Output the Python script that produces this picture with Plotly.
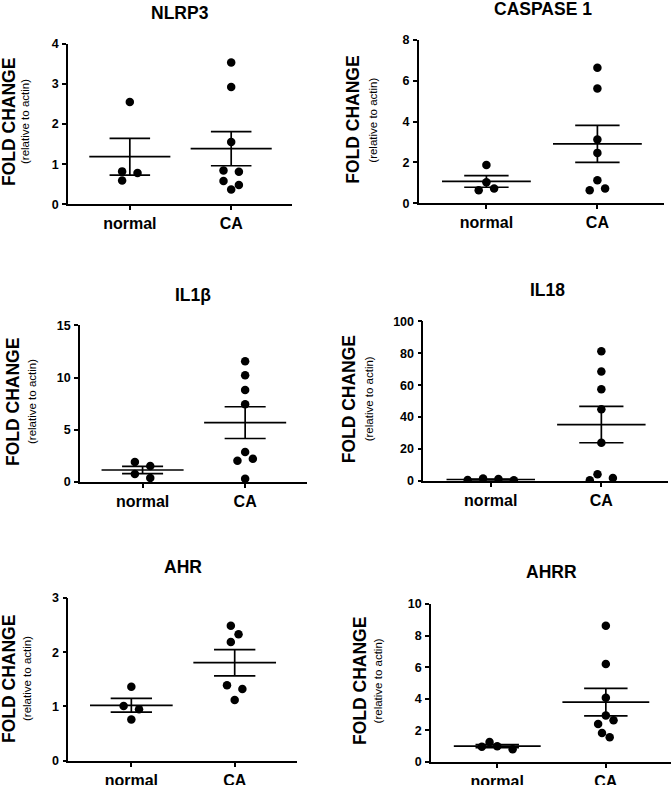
import numpy as np
import plotly.graph_objects as go

# ---------------- data ----------------
groups = ["normal", "CA"]

nlrp3_normal = [2.55, 0.82, 0.78, 0.59]
nlrp3_ca = [3.53, 2.92, 1.55, 0.84, 0.81, 0.58, 0.48, 0.37]

casp1_normal = [1.88, 1.03, 0.64, 0.73]
casp1_ca = [6.64, 5.62, 3.13, 2.47, 1.13, 0.64, 0.73]

il1b_normal = [1.53, 1.92, 0.38, 0.77]
il1b_ca = [11.55, 10.21, 8.81, 7.44, 2.87, 2.23, 2.04, 0.32]

il18_normal = [0.5, 1.5, 0.6, 1.2]
il18_ca = [81.2, 68.5, 57.4, 44.9, 24.0, 4.2, 0.4, 1.9]

ahr_normal = [1.365, 1.01, 0.95, 0.76]
ahr_ca = [2.49, 2.33, 2.19, 1.39, 1.32, 1.12]

ahrr_normal = [0.80, 1.27, 0.97, 0.99]
ahrr_ca = [8.63, 6.20, 4.07, 2.95, 2.64, 2.41, 1.84, 1.56]

titles = ["NLRP3", "CASPASE 1", "IL1β", "IL18", "AHR", "AHRR"]
y_max = [4, 8, 15, 100, 3, 10]
y_dtick = [1, 2, 5, 20, 1, 2]
series = [
    (nlrp3_normal, nlrp3_ca),
    (casp1_normal, casp1_ca),
    (il1b_normal, il1b_ca),
    (il18_normal, il18_ca),
    (ahr_normal, ahr_ca),
    (ahrr_normal, ahrr_ca),
]

# ---------------- layout (pixel boxes of the plot areas) ----------------
W, H = 672, 785
boxes = [  # x0, x1, ytop, ybottom
    (68, 292, 43.7, 204.3),
    (418.7, 664, 40, 203.3),
    (80, 306.7, 325.3, 482),
    (423.3, 667.7, 321.3, 481),
    (68.3, 296.7, 598, 760.7),
    (431, 671, 604, 762),
]
title_pos = [(180, 13), (542.7, 9.5), (193, 295.3), (547.7, 290.3), (182.7, 567.3), (551, 572.3)]
ylab_pos = [(9, 25, 122), (352.7, 372.7, 120), (13, 32, 402), (349, 369, 399.3), (9, 27, 679), (359.3, 377.7, 680.7)]

XR = (-0.61, 1.6)
FONT = "Liberation Sans, Arial, Helvetica, sans-serif"
BLACK = "#000000"


def swarm(values, ppu_y, ppu_x, D=8.8, h=7.7):
    """Simple beeswarm: horizontal offsets (in category units)."""
    order = sorted(range(len(values)), key=lambda i: -values[i])
    placed = {}
    for i in order:
        y = values[i] * ppu_y
        for k in [0, 1, -1, 2, -2, 3, -3, 4, -4, 5, -5]:
            x = k * h
            if all((x - px) ** 2 + (y - py) ** 2 >= D * D for px, py in placed.values()):
                placed[i] = (x, y)
                break
    offs = {i: placed[i][0] for i in placed}
    clusters, cur = [], [order[0]]
    for a, b in zip(order[:-1], order[1:]):
        if placed[a][1] - placed[b][1] < D:
            cur.append(b)
        else:
            clusters.append(cur)
            cur = [b]
    clusters.append(cur)
    for c in clusters:
        xs = [offs[i] for i in c]
        s = (min(xs) + max(xs)) / 2
        for i in c:
            offs[i] -= s
    return [offs[i] / ppu_x for i in range(len(values))]


fig = go.Figure()
annotations = []

for p, (box, title, ym, dt, data) in enumerate(zip(boxes, titles, y_max, y_dtick, series)):
    x0, x1, yt, yb = box
    n = p + 1
    xa = "x" if n == 1 else f"x{n}"
    ya = "y" if n == 1 else f"y{n}"
    ppu_y = (yb - yt) / ym
    ppu_x = (x1 - x0) / (XR[1] - XR[0])

    for g, vals in enumerate(data):
        vals = np.asarray(vals, dtype=float)
        offs = swarm(list(vals), ppu_y, ppu_x)
        fig.add_trace(go.Scatter(
            x=[g + o for o in offs], y=vals, mode="markers",
            marker=dict(size=8.5, color=BLACK, line=dict(width=0)),
            xaxis=xa, yaxis=ya, showlegend=False, hoverinfo="y"))
        m = vals.mean()
        sem = vals.std(ddof=1) / np.sqrt(len(vals))
        lx = [g - 0.4, g + 0.4, None,
              g - 0.2, g + 0.2, None,
              g - 0.2, g + 0.2, None,
              g, g]
        ly = [m, m, None,
              m + sem, m + sem, None,
              m - sem, m - sem, None,
              m - sem, m + sem]
        fig.add_trace(go.Scatter(
            x=lx, y=ly, mode="lines", line=dict(color=BLACK, width=1.7),
            xaxis=xa, yaxis=ya, showlegend=False, hoverinfo="skip"))

    axis_common = dict(showline=True, linecolor=BLACK, linewidth=1.6, showgrid=False,
                       zeroline=False, ticks="outside", ticklen=4, tickwidth=1.5,
                       tickcolor=BLACK, automargin=False)
    fig.update_layout(**{
        ("xaxis" if n == 1 else f"xaxis{n}"): dict(
            domain=[x0 / W, x1 / W], range=list(XR), anchor=ya,
            tickvals=[0, 1], ticktext=groups,
            tickfont=dict(family=FONT, size=16, color=BLACK, weight="bold"),
            ticklabelstandoff=0, **axis_common),
        ("yaxis" if n == 1 else f"yaxis{n}"): dict(
            domain=[1 - yb / H, 1 - yt / H], range=[0, ym], anchor=xa,
            tick0=0, dtick=dt,
            tickfont=dict(family=FONT, size=12.5, color=BLACK, weight="bold"),
            ticklabelstandoff=1, **axis_common),
    })

    tx, ty = title_pos[p]
    annotations.append(dict(x=tx / W, y=1 - ty / H, xref="paper", yref="paper",
                            text=f"<b>{title}</b>", showarrow=False,
                            xanchor="center", yanchor="middle",
                            font=dict(family=FONT, size=17.5, color=BLACK)))
    lx1, lx2, lyc = ylab_pos[p]
    annotations.append(dict(x=lx1 / W, y=1 - lyc / H, xref="paper", yref="paper",
                            text="<b>FOLD CHANGE</b>", showarrow=False, textangle=-90,
                            xanchor="center", yanchor="middle",
                            font=dict(family=FONT, size=17.5, color=BLACK)))
    annotations.append(dict(x=lx2 / W, y=1 - lyc / H, xref="paper", yref="paper",
                            text="(relative to actin)", showarrow=False, textangle=-90,
                            xanchor="center", yanchor="middle",
                            font=dict(family=FONT, size=11.5, color=BLACK)))

fig.update_layout(
    width=W, height=H, margin=dict(l=0, r=0, t=0, b=0, autoexpand=False),
    paper_bgcolor="white", plot_bgcolor="white",
    annotations=annotations, showlegend=False,
)

fig.write_html(
    "out.html",
    config={"displayModeBar": False},
    post_script="document.body.style.margin='0';document.body.style.overflow='hidden';",
)
